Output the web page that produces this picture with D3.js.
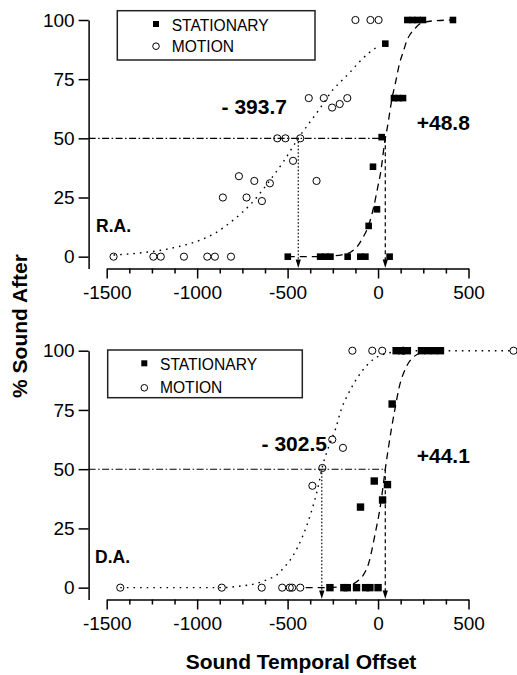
<!DOCTYPE html>
<html><head><meta charset="utf-8">
<script src="https://cdn.jsdelivr.net/npm/d3@7"></script>
<style>
html,body{margin:0;padding:0;background:#fff;}
svg{display:block;font-family:"Liberation Sans",Arial,Helvetica,sans-serif;}
</style></head>
<body>
<svg id="chart" width="517" height="675"></svg>
<script>
// ---------- DATA ----------
const xMajorTicks = [-1500, -1000, -500, 0, 500];
const xMinorTicks = [-1375, -1250, -1125, -875, -750, -625, -375, -250, -125, 125, 250, 375];
const yTicks = [0, 25, 50, 75, 100];
const seriesNames = ["STATIONARY", "MOTION"];
const panelNames = ["R.A.", "D.A."];

// Panel R.A.
const raStationary = [[-499,0],[-320,0],[-290,0],[-263,0],[-168,0],[-98,0],[-70,0],[64,0],
  [-52,13],[-6,20],[-28,38],[20,50.5],[88,67],[112,67],[138,67],[40,90],
  [162,100],[190,100],[218,100],[248,100],[414,100]];
const raMotion = [[-1462,0],[-1242,0],[-1201,0],[-1073,0],[-944,0],[-902,0],[-813,0],
  [-858,25],[-769,34],[-727,25],[-684,32],[-642,23.5],[-598,31],[-470,40.5],
  [-557,50],[-512,50],[-430,50],[-383,67],[-300,67],[-254,63],[-212,64.5],[-170,67],
  [-340,32],[-125,100],[-42,100],[3,100]];
const raStationaryFit = [[-499,0],[-400,0],[-300,0.1],[-200,0.8],[-150,2],[-116,4.2],[-88,7.5],
  [-50,13.7],[-24,21],[0,30],[13,35],[40,50],[50,54],[80,68],[95,73],[120,82],[141,87],
  [160,91.5],[178,94],[200,96],[233,98.5],[300,99.6],[414,100]];
const raMotionFit = [[-1462,0.7],[-1300,1.7],[-1200,2.7],[-1100,4.3],[-1000,6.5],[-900,10],
  [-800,15.5],[-700,22.5],[-600,32],[-520,40.5],[-441,50],[-390,55.5],[-346,60],[-300,65],
  [-250,70.5],[-212,73.5],[-160,77.5],[-107,82],[-52,86],[3,89]];
const raThresholds = [-441, 40];          // where the 50 % line meets each fit (as drawn)
const raThresholdLabels = ["- 393.7", "+48.8"];

// Panel D.A.
const daStationary = [[-266,0],[-189,0],[-170,0],[-119,0],[-69,0],[-45,0],[0,0],
  [-97,34],[-21,45],[25,37],[52,43.5],[78,77.5],
  [100,100],[130,100],[162,100],[240,100],[275,100],[310,100],[345,100]];
const daMotion = [[-1425,0],[-864,0],[-643,0],[-530,0],[-488,0],[-475,0],[-430,0],
  [-363,43],[-308,50.5],[-253,62.5],[-194,59],
  [-142,100],[-32,100],[23,100],[139,100],[749,100]];
const daStationaryFit = [[-400,0],[-300,0],[-200,0.4],[-150,1.2],[-106,3.2],[-80,5.5],[-51,10.5],
  [-18,22],[14,35],[40,50],[75,67.5],[95,76],[115,84],[152,92.5],[198,97.5],[250,99.3],[345,100]];
const daMotionFit = [[-1425,0],[-1200,0],[-1000,0],[-864,0],[-760,0.7],[-680,1.6],[-600,3.8],
  [-566,5],[-520,8.5],[-474,13],[-418,21.5],[-373,31],[-330,43],[-311,50],[-270,60],
  [-235,67],[-200,76],[-170,81],[-115,88.5],[-60,94],[-23,96.5],[30,98.5],[100,99.5],
  [200,100],[400,100],[750,100]];
const daThresholds = [-311, 40];
const daThresholdLabels = ["- 302.5", "+44.1"];

// ---------- LAYOUT ----------
const svg = d3.select("#chart");
const xRange = [106.7, 468.5];

const panels = [
  { name: panelNames[0], stat: raStationary, mot: raMotion, statFit: raStationaryFit, motFit: raMotionFit,
    thr: raThresholds, thrLab: raThresholdLabels, yRange: [268.5, 20], sq: 6.6,
    legend: {x0: 117.3, y0: 10.7, x1: 315, y1: 60, mx: 156, tx: 171.7, r1: 30.7, r2: 51.7},
    motLab: {x: 287, y: 114}, statLab: {x: 416.7, y: 130}, pLab: {x: 96, y: 232.3} },
  { name: panelNames[1], stat: daStationary, mot: daMotion, statFit: daStationaryFit, motFit: daMotionFit,
    thr: daThresholds, thrLab: daThresholdLabels, yRange: [599.5, 350.7], sq: 7.4,
    legend: {x0: 107.7, y0: 350, x1: 302.3, y1: 397.7, mx: 144.3, tx: 160, r1: 370, r2: 393.3},
    motLab: {x: 327, y: 450.7}, statLab: {x: 416.7, y: 463.3}, pLab: {x: 95, y: 562.7} }
];

const x = d3.scaleLinear().domain([-1500, 500]).range(xRange);
const fmt = d => String(d);

function drawPanel(p) {
  const y = d3.scaleLinear().domain([-5, 100]).range(p.yRange);
  const g = svg.append("g");
  const yAxisX = x(-1600);
  const xAxisY = y(-5);

  // axes
  g.append("g").attr("transform", `translate(0,${xAxisY})`)
    .call(d3.axisBottom(x).tickValues(xMajorTicks).tickFormat(fmt).tickSize(10).tickSizeOuter(0).tickPadding(7.5));
  g.append("g").attr("transform", `translate(0,${xAxisY})`)
    .call(d3.axisBottom(x).tickValues(xMinorTicks).tickSize(5).tickFormat(""))
    .call(s => s.select(".domain").remove());
  g.append("g").attr("transform", `translate(${yAxisX},0)`)
    .call(d3.axisLeft(y).tickValues(yTicks).tickFormat(fmt).tickSize(10).tickSizeOuter(0).tickPadding(4));
  g.selectAll(".domain, .tick line").attr("stroke", "#000").attr("stroke-width", 1.5);
  g.selectAll(".tick text").attr("font-size", 19).attr("fill", "#000")
    .attr("font-family", '"Liberation Sans",Arial,sans-serif');

  const line = d3.line().x(d => x(d[0])).y(d => y(d[1])).curve(d3.curveMonotoneX);

  // 50 % reference line (dash-dot)
  g.append("line").attr("x1", yAxisX).attr("x2", x(p.thr[1]) - 2)
    .attr("y1", y(50)).attr("y2", y(50))
    .attr("stroke", "#000").attr("stroke-width", 1.1).attr("stroke-dasharray", "7,2.5,1.5,2.5");
  // vertical threshold lines
  g.append("line").attr("x1", x(p.thr[0])).attr("x2", x(p.thr[0]))
    .attr("y1", y(50)).attr("y2", xAxisY - 6)
    .attr("stroke", "#000").attr("stroke-width", 1.2).attr("stroke-dasharray", "1.5,2");
  g.append("line").attr("x1", x(p.thr[1])).attr("x2", x(p.thr[1]))
    .attr("y1", y(50)).attr("y2", xAxisY - 6)
    .attr("stroke", "#000").attr("stroke-width", 1.2).attr("stroke-dasharray", "4,3");
  // arrowheads
  p.thr.forEach(t => {
    const cx = x(t);
    g.append("path").attr("d", `M${cx-2.6},${xAxisY-9}L${cx+2.6},${xAxisY-9}L${cx},${xAxisY-0.5}Z`)
      .attr("fill", "#000");
  });

  // fitted curves
  g.append("path").datum(p.motFit).attr("d", line).attr("fill", "none")
    .attr("stroke", "#000").attr("stroke-width", 1.4).attr("stroke-dasharray", "1.6,5");
  g.append("path").datum(p.statFit).attr("d", line).attr("fill", "none")
    .attr("stroke", "#000").attr("stroke-width", 1.3).attr("stroke-dasharray", "7,5");

  // markers
  g.selectAll(".mot").data(p.mot).join("circle")
    .attr("cx", d => x(d[0])).attr("cy", d => y(d[1])).attr("r", 3.6)
    .attr("fill", "none").attr("stroke", "#000").attr("stroke-width", 1);
  g.selectAll(".sta").data(p.stat).join("rect")
    .attr("x", d => x(d[0]) - p.sq/2).attr("y", d => y(d[1]) - p.sq/2)
    .attr("width", p.sq).attr("height", p.sq).attr("fill", "#000");

  // legend
  const L = p.legend;
  g.append("rect").attr("x", L.x0).attr("y", L.y0).attr("width", L.x1 - L.x0).attr("height", L.y1 - L.y0)
    .attr("fill", "#fff").attr("stroke", "#222").attr("stroke-width", 1.5);
  g.append("rect").attr("x", L.mx - 3).attr("y", L.r1 - 9.7).attr("width", 6).attr("height", 6).attr("fill", "#000");
  g.append("circle").attr("cx", L.mx).attr("cy", L.r2 - 5.5).attr("r", 3.3)
    .attr("fill", "none").attr("stroke", "#000").attr("stroke-width", 1);
  g.append("text").attr("x", L.tx).attr("y", L.r1).attr("font-size", 15.6).text(seriesNames[0]);
  g.append("text").attr("x", L.tx).attr("y", L.r2).attr("font-size", 15.6).text(seriesNames[1]);

  // annotations
  g.append("text").attr("x", p.motLab.x).attr("y", p.motLab.y).attr("text-anchor", "end")
    .attr("font-size", 21).attr("font-weight", "bold").text(p.thrLab[0]);
  g.append("text").attr("x", p.statLab.x).attr("y", p.statLab.y)
    .attr("font-size", 21).attr("font-weight", "bold").text(p.thrLab[1]);
  g.append("text").attr("x", p.pLab.x).attr("y", p.pLab.y)
    .attr("font-size", 17.5).attr("font-weight", "bold").text(p.name);
}

panels.forEach(drawPanel);

// axis titles
svg.append("text").attr("transform", "translate(27,326) rotate(-90)").attr("text-anchor", "middle")
  .attr("font-size", 21).attr("font-weight", "bold").text("% Sound After");
svg.append("text").attr("x", 301).attr("y", 669).attr("text-anchor", "middle")
  .attr("font-size", 21).attr("font-weight", "bold").text("Sound Temporal Offset");
</script>
</body></html>
